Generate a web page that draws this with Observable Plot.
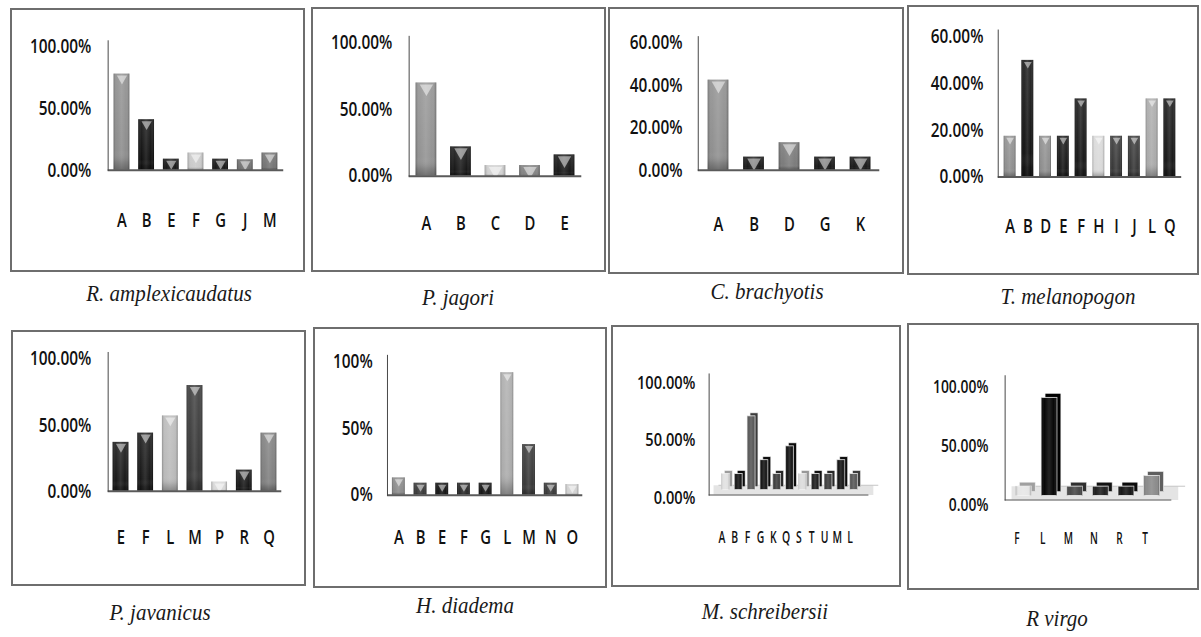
<!DOCTYPE html>
<html><head><meta charset="utf-8">
<script src="https://cdn.jsdelivr.net/npm/d3@7"></script>
<script src="https://cdn.jsdelivr.net/npm/@observablehq/plot@0.6"></script>
<style>
html,body{margin:0;padding:0;background:#fff}
body{width:1201px;height:637px;position:relative;overflow:hidden}
.box{position:absolute;border:2px solid #6e6e6e;box-sizing:border-box}
.box svg{position:absolute;left:-2px;top:-2px;overflow:visible}
.cap{position:absolute;font-family:"Liberation Serif","DejaVu Serif",serif;font-style:italic;font-size:21px;line-height:22px;color:#1a1a1a;white-space:nowrap;transform:translateX(-50%) scaleY(1.1);transform-origin:50% 80%}
</style></head><body>
<svg width="0" height="0" style="position:absolute">
<defs>
<linearGradient id="shineH" x1="0" x2="1" y1="0" y2="0">
 <stop offset="0" stop-color="#000" stop-opacity="0.25"/>
 <stop offset="0.2" stop-color="#fff" stop-opacity="0.03"/>
 <stop offset="0.5" stop-color="#fff" stop-opacity="0.14"/>
 <stop offset="0.8" stop-color="#fff" stop-opacity="0.03"/>
 <stop offset="1" stop-color="#000" stop-opacity="0.3"/>
</linearGradient>
<linearGradient id="shineV" x1="0" x2="0" y1="0" y2="1">
 <stop offset="0" stop-color="#fff" stop-opacity="0.1"/>
 <stop offset="0.8" stop-color="#fff" stop-opacity="0"/>
 <stop offset="0.92" stop-color="#000" stop-opacity="0.12"/>
 <stop offset="1" stop-color="#000" stop-opacity="0.28"/>
</linearGradient>
</defs></svg>
<script>
// ---------- data ----------
const speciesNames = ["R. amplexicaudatus","P. jagori","C. brachyotis","T. melanopogon","P. javanicus","H. diadema","M. schreibersii","R virgo"];

const catsRAmplex = ["A","B","E","F","G","J","M"];
const valsRAmplex = [0.78,0.41,0.09,0.14,0.09,0.085,0.14];
const catsPJagori = ["A","B","C","D","E"];
const valsPJagori = [0.70,0.22,0.08,0.08,0.16];
const catsCBrach = ["A","B","D","G","K"];
const valsCBrach = [0.425,0.062,0.13,0.062,0.062];
const catsTMelano = ["A","B","D","E","F","H","I","J","L","Q"];
const valsTMelano = [0.175,0.50,0.175,0.175,0.335,0.175,0.175,0.175,0.335,0.335];
const catsPJavan = ["E","F","L","M","P","R","Q"];
const valsPJavan = [0.37,0.44,0.57,0.80,0.07,0.16,0.44];
const catsHDiad = ["A","B","E","F","G","L","M","N","O"];
const valsHDiad = [0.13,0.09,0.09,0.09,0.09,0.92,0.38,0.09,0.08];
const catsMSchr = ["A","B","F","G","K","Q","S","T","U","M","L"];
const valsMSchr = [0.14,0.14,0.64,0.26,0.14,0.38,0.14,0.14,0.14,0.26,0.14];
const catsRVirgo = ["F","L","M","N","R","T"];
const valsRVirgo = [0.08,0.83,0.08,0.08,0.08,0.17];

const ticksHalf = [0, 0.5, 1];
const ticksFifth = [0, 0.2, 0.4, 0.6];

const catsList = [catsRAmplex,catsPJagori,catsCBrach,catsTMelano,catsPJavan,catsHDiad,catsMSchr,catsRVirgo];
const valsList = [valsRAmplex,valsPJagori,valsCBrach,valsTMelano,valsPJavan,valsHDiad,valsMSchr,valsRVirgo];
const tickList = [ticksHalf,ticksHalf,ticksFifth,ticksFifth,ticksHalf,ticksHalf,ticksHalf,ticksHalf];

// ---------- styles ----------
const shadesList = [
  ["#8a8a8a","#0a0a0a","#111","#c8c8c8","#111","#6e6e6e","#707070"],
  ["#909090","#111","#d0d0d0","#808080","#111"],
  ["#8c8c8c","#111","#777","#111","#111"],
  ["#8c8c8c","#0d0d0d","#8c8c8c","#111","#111","#d8d8d8","#333","#333","#a8a8a8","#111"],
  ["#111","#111","#b8b8b8","#333","#d8d8d8","#111","#7c7c7c"],
  ["#888","#333","#0d0d0d","#222","#0d0d0d","#aaa","#333","#333","#d0d0d0"],
  ["#e0e0e0","#111","#555","#111","#3a3a3a","#111","#dadada","#1a1a1a","#3a3a3a","#111","#555"],
  ["#e6e6e6","#000","#444","#1a1a1a","#111","#888"]
];
const layout = [
  {left:10,top:8,w:295,h:264,axisX:99,xStart:100,xEnd:276,frameEnd:277,y0:164,yMax:39,pad:0.36,tpad:17,xlab:43.5},
  {left:311,top:7,w:295,h:265,axisX:99,xStart:99,xEnd:274,frameEnd:274,y0:171,yMax:36,pad:0.4,tpad:17,xlab:40.5},
  {left:608,top:7,w:296,h:267,axisX:91,xStart:91,xEnd:275,frameEnd:275,y0:165,yMax:36,pad:0.42,tpad:16,xlab:47.5},
  {left:907,top:5,w:292,h:270,axisX:92,xStart:92,xEnd:278,frameEnd:278,y0:174,yMax:32,pad:0.35,tpad:15,xlab:42.5},
  {left:11,top:330,w:295,h:256,axisX:98,xStart:98,xEnd:274,frameEnd:274,y0:163,yMax:29,pad:0.36,tpad:17,xlab:39.5},
  {left:313,top:327,w:294,h:261,axisX:75,xStart:75,xEnd:273,frameEnd:273,y0:170,yMax:35,pad:0.41,tpad:15,xlab:35.5,fmt0:true},
  {left:611,top:325,w:290,h:262,axisX:99,xStart:104,xEnd:257,frameEnd:261,y0:172,yMax:55,pad:0.42,tpad:14,xlab:36,xfs:17,xsc:0.62,yfs:19,ydy:3,xdx:-4,depth:3,barDy:-5,floor:10},
  {left:907,top:323,w:292,h:267,axisX:99,xStart:105,xEnd:261,frameEnd:268,y0:179,yMax:59,pad:0.38,tpad:17,xlab:32.5,xfs:17,xsc:0.6,yfs:19,ysc:0.74,ydy:5,xdx:-7,depth:4,barDy:-4,floor:14}
];
const capPos = [[169,301],[458,305],[767,299],[1068,304],[160,620],[465,613],[765,619],[1057,626]];
const tickFont = '"Open Sans","DejaVu Sans",sans-serif';

// horizontal squeeze of tick labels (condensed look), around each label's anchor
function squeeze(svg, sel, s) {
  svg.querySelectorAll(sel).forEach(t => {
    const tr = t.getAttribute("transform") || "";
    t.setAttribute("transform", `${tr} scale(${s},1)`);
  });
}

function makePanel(k) {
  const cats = catsList[k], vals = valsList[k], L = layout[k];
  const data = cats.map((c, i) => ({cat: c, v: vals[i]}));
  const ticks = tickList[k];
  const maxT = d3.max(ticks);
  const pxPer = (L.y0 - L.yMax) / maxT;
  const ext = 0.05;
  const marginTop = L.yMax - ext * maxT * pxPer;
  const bw = (L.xEnd - L.xStart) / cats.length * (1 - L.pad);
  const r = bw * 0.24;
  const fmt = L.fmt0 ? d => `${Math.round(d * 100)}%` : d => `${(d * 100).toFixed(2)}%`;
  const marks = [];
  if (L.depth) {
    marks.push(Plot.ruleY([0], {stroke: "#e4e4e4", strokeWidth: L.floor, dy: -L.floor / 2, dx: L.floor / 2}));
    marks.push(Plot.ruleY([0], {stroke: "#c4c4c4", strokeWidth: 1, dy: -L.floor, dx: L.floor}));
    marks.push(Plot.ruleY([0], {stroke: "#8a8a8a", strokeWidth: 1.5}));
    marks.push(Plot.barY(data, {x: "cat", y: "v", fill: "cat", dx: L.depth, dy: L.barDy - L.depth}));
    marks.push(Plot.barY(data, {x: "cat", y: "v", fill: "black", fillOpacity: 0.3, dx: L.depth, dy: L.barDy - L.depth, stroke: "#f2f2f2", strokeWidth: 0.6}));
    marks.push(Plot.barY(data, {x: "cat", y: "v", fill: "cat", dy: L.barDy, stroke: "#f2f2f2", strokeWidth: 0.8}));
    marks.push(Plot.barY(data, {x: "cat", y: "v", fill: "url(#shineH)", dy: L.barDy}));
  } else {
    marks.push(Plot.barY(data, {x: "cat", y: "v", fill: "cat"}));
    marks.push(Plot.barY(data, {x: "cat", y: "v", fill: "url(#shineH)"}));
    marks.push(Plot.barY(data, {x: "cat", y: "v", fill: "url(#shineV)"}));
    marks.push(Plot.dot(data, {x: "cat", y: "v", symbol: "triangle", rotate: 180, r, fill: "white", fillOpacity: 0.5, stroke: null, dy: 0.78 * r + 1.5}));
    marks.push(Plot.ruleY([0], {stroke: "#5a5a5a", strokeWidth: 2}));
  }
  marks.push(Plot.frame({anchor: "left", stroke: "#444"}));
  marks.push(Plot.axisY({ticks, tickFormat: fmt, tickSize: 0, tickPadding: L.tpad, fontSize: L.yfs || 20, dy: L.ydy || 0, label: null}));
  marks.push(Plot.axisX({tickSize: 0, tickPadding: L.xlab, fontSize: L.xfs || 20, dx: L.xdx || 0, label: null}));
  const svg = Plot.plot({
    width: L.w, height: L.h,
    marginTop, marginBottom: L.h - L.y0, marginLeft: L.axisX, marginRight: L.w - L.frameEnd,
    x: {domain: cats, paddingInner: L.pad, paddingOuter: L.pad / 2, insetLeft: L.xStart - L.axisX, insetRight: L.frameEnd - L.xEnd, label: null},
    y: {domain: [0, maxT * (1 + ext)], label: null},
    color: {domain: cats, range: shadesList[k]},
    style: {fontFamily: tickFont, fontWeight: 600, color: "#111", background: "transparent", overflow: "visible"},
    marks
  });
  squeeze(svg, 'g[aria-label="y-axis tick label"] text', L.ysc || 0.78);
  squeeze(svg, 'g[aria-label="x-axis tick label"] text', L.xsc || 0.75);
  return svg;
}

for (let k = 0; k < 8; k++) {
  const L = layout[k];
  const box = document.createElement("div");
  box.className = "box";
  Object.assign(box.style, {left: L.left + "px", top: L.top + "px", width: L.w + "px", height: L.h + "px"});
  box.appendChild(makePanel(k));
  document.body.appendChild(box);
  const cap = document.createElement("div");
  cap.className = "cap";
  cap.textContent = speciesNames[k];
  cap.style.left = capPos[k][0] + "px";
  cap.style.top = (capPos[k][1] - 18) + "px";
  document.body.appendChild(cap);
}
</script>
</body></html>
